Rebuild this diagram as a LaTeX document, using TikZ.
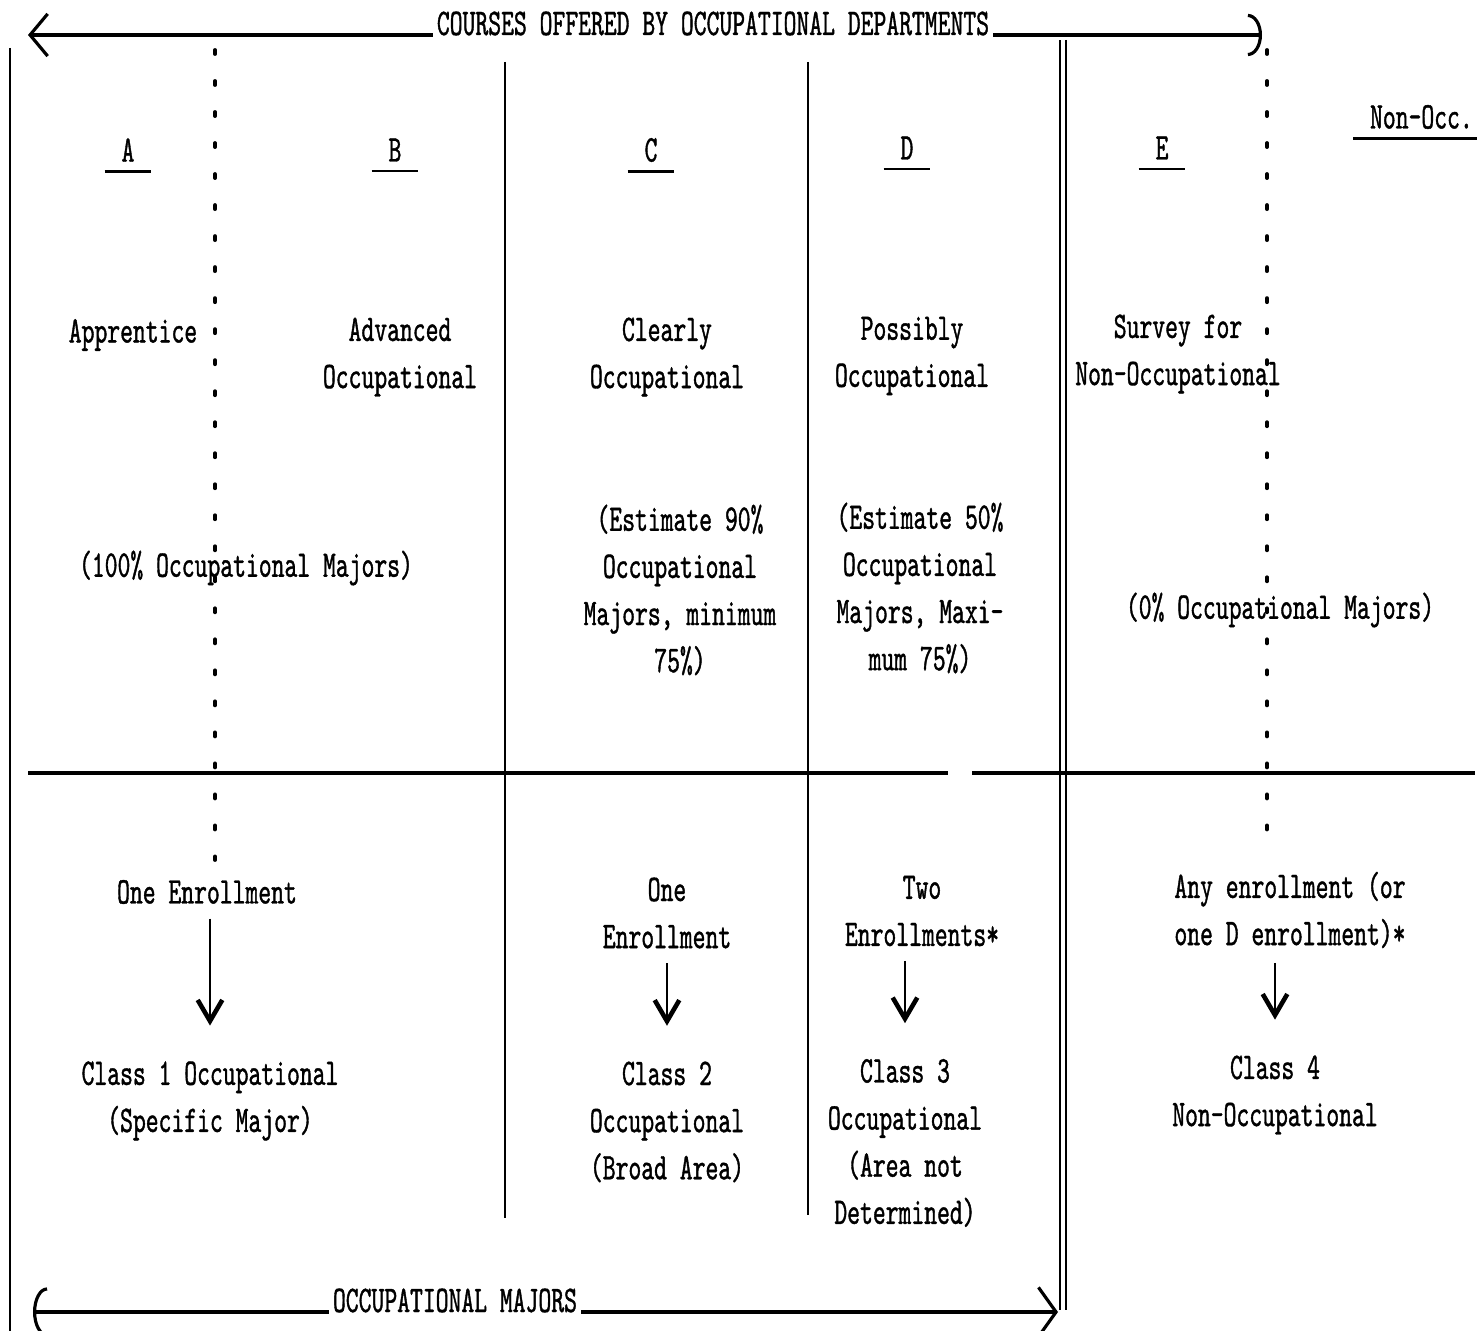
\documentclass[tikz,border=0pt]{standalone}
\usepackage{fontspec}
\newfontfamily\typefont{lmmono10-regular.otf}[FakeStretch=0.65,FakeBold=1]
\usetikzlibrary{arrows.meta}

\tikzstyle{typed} = [font=\typefont\fontsize{10.7}{13.4}\selectfont, align=center, inner sep=1pt]
\tikzstyle{rule}  = [draw, line width=0.6pt]
\tikzstyle{heavy} = [draw, line width=1.1pt]
\tikzstyle{dots}  = [draw, line width=1.1pt, line cap=round, dash pattern=on 0.04cm off 0.27cm]
\tikzstyle{span}  = [draw, line width=0.9pt]
\tikzstyle{uline} = [draw, line width=0.8pt]
\tikzstyle{down}  = [draw, line width=0.7pt, -{Straight Barb[length=6pt,width=7pt,line width=1.3pt]}, shorten <=3pt, shorten >=9pt]

\begin{document}
\begin{tikzpicture}[x=0.01cm, y=-0.01cm]
    \useasboundingbox (0,0) rectangle (1481,1331);

    % column rules
    \draw[rule] (10,48) -- (10,1331);
    \draw[rule] (505,62) -- (505,1218);
    \draw[rule] (808,62) -- (808,1215);
    \draw[rule, line width=0.5pt, double, double distance=1.2pt] (1063,40) -- (1063,1310);
    \path[dots] (215,50) -- (215,860);
    \path[dots] (1267,50) -- (1267,840);
    \draw[heavy] (28,773) -- (948,773);
    \draw[heavy] (972,773) -- (1475,773);

    % spans
    \node[typed, anchor=base] (courses) at (713,35) {COURSES OFFERED BY OCCUPATIONAL DEPARTMENTS};
    \coordinate (coursesL) at (28,35);
    \coordinate (coursesR) at (1262,35);
    \path [span, -{Straight Barb[length=5pt,width=12pt]}] (courses.base west) -- (coursesL);
    \path [span, -{Arc Barb[length=4pt,width=12pt]}] (courses.base east) -- (coursesR);

    \node[typed, anchor=base] (majors) at (455,1312) {OCCUPATIONAL MAJORS};
    \coordinate (majorsL) at (33,1312);
    \coordinate (majorsR) at (1058,1312);
    \path [span, -{Arc Barb[length=4pt,width=14pt]}] (majors.base west) -- (majorsL);
    \path [span, -{Straight Barb[length=5pt,width=14pt]}] (majors.base east) -- (majorsR);

    % column letters
    \node[typed] (colA) at (128,150) {\ A\ };
    \node[typed] (colB) at (395,150) {\ B\ };
    \node[typed] (colC) at (651,150) {\ C\ };
    \node[typed] (colD) at (907,148) {\ D\ };
    \node[typed] (colE) at (1162,148) {\ E\ };
    \node[typed] (nonOcc) at (1415,117) {\ Non-Occ.};
    \foreach \c in {colA,colB,colC,colD,colE,nonOcc}
        \path [uline] ([yshift=-1.5pt]\c.south west) -- ([yshift=-1.5pt]\c.south east);

    % course types
    \node[typed] (typeA) at (133,335) {Apprentice};
    \node[typed] (typeB) at (400,357) {Advanced\\Occupational};
    \node[typed] (typeC) at (667,357) {Clearly\\Occupational};
    \node[typed] (typeD) at (912,356) {Possibly\\Occupational};
    \node[typed] (typeE) at (1178,354) {Survey for\\Non-Occupational};

    % shares of majors
    \node[typed] (shareAB) at (246,568) {(100\% Occupational Majors)};
    \node[typed] (shareC) at (680,590) {(Estimate 90\%\\Occupational\\Majors, minimum\\75\%)};
    \node[typed] (shareD) at (920,588) {(Estimate 50\%\\Occupational\\Majors, Maxi-\\mum 75\%)};
    \node[typed] (shareE) at (1280,610) {(0\% Occupational Majors)};

    % enrollments and classes
    \node[typed] (enrA) at (207,892) {One Enrollment};
    \node[typed] (enrC) at (667,913) {One\\Enrollment};
    \node[typed] (enrD) at (922,911) {Two\\Enrollments*};
    \node[typed] (enrE) at (1290,910) {Any enrollment (or\\one D enrollment)*};

    \node[typed] (clsA) at (210,1101) {Class 1 Occupational\\(Specific Major)};
    \node[typed] (clsC) at (667,1122) {Class 2\\Occupational\\(Broad Area)};
    \node[typed] (clsD) at (905,1143) {Class 3\\Occupational\\(Area not\\Determined)};
    \node[typed] (clsE) at (1275,1095) {Class 4\\Non-Occupational};

    \path [down] (clsA.north |- enrA.south) -- (clsA.north);
    \path [down] (clsC.north |- enrC.south) -- (clsC.north);
    \path [down] (clsD.north |- enrD.south) -- (clsD.north);
    \path [down] (clsE.north |- enrE.south) -- (clsE.north);
\end{tikzpicture}
\end{document}
